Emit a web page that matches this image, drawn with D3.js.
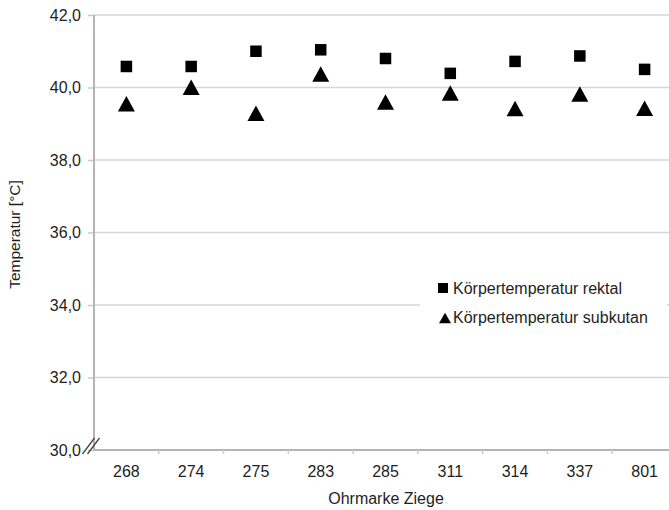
<!DOCTYPE html>
<html><head><meta charset="utf-8">
<script src="https://cdn.jsdelivr.net/npm/d3@7"></script>
<style>body{margin:0;background:#fff}svg{display:block}text{font-family:"Liberation Sans",Arial,sans-serif;fill:#1e1e1e}</style>
</head><body><svg id="c" width="669" height="510"></svg>
<script>
const categories = ["268","274","275","283","285","311","314","337","801"];
const rektal   = [40.58,40.58,41.00,41.04,40.80,40.39,40.72,40.87,40.50];
const subkutan = [39.55,40.01,39.29,40.37,39.60,39.85,39.42,39.82,39.43];
const yTicks = [30,32,34,36,38,40,42];
const seriesNames = ["Körpertemperatur rektal","Körpertemperatur subkutan"];

const svg = d3.select("#c");
const L=94, R=677, T=15, B=450;
const x = d3.scaleBand().domain(categories).range([L,R]);
const y = d3.scaleLinear().domain([30,42]).range([B,T]);
const fmt = d => d.toFixed(1).replace(".", ",");
const FF = "Liberation Sans, Arial, sans-serif";

// gridlines
svg.append("g").selectAll("line").data(yTicks.filter(d=>d>30)).join("line")
  .attr("x1",L).attr("x2",R).attr("y1",d=>y(d)).attr("y2",d=>y(d))
  .attr("stroke","#d6d6d6").attr("stroke-width",1.5);
// y tick marks + labels
const ya = svg.append("g").attr("transform",`translate(${L},0)`)
  .call(d3.axisLeft(y).tickValues(yTicks).tickFormat(fmt).tickSize(6).tickPadding(7));
ya.select(".domain").remove();
ya.selectAll("line").attr("stroke","#c8c8c8").attr("stroke-width",1.5);
ya.selectAll("text").attr("font-size",16).style("font-family",FF).attr("fill","#1e1e1e");
// left axis
svg.append("line").attr("x1",L).attr("x2",L).attr("y1",T).attr("y2",B)
  .attr("stroke","#b4b4b4").attr("stroke-width",2);
// x axis
const xa = svg.append("g").attr("transform",`translate(0,${B})`)
  .call(d3.axisBottom(x).tickSize(0).tickPadding(16));
xa.select(".domain").remove();
xa.selectAll("text").attr("font-size",16).style("font-family",FF).attr("fill","#1e1e1e");
svg.append("line").attr("x1",L).attr("x2",R).attr("y1",B).attr("y2",B)
  .attr("stroke","#b4b4b4").attr("stroke-width",2);
svg.append("g").selectAll("line").data(categories.slice(1)).join("line")
  .attr("x1",d=>x(d)).attr("x2",d=>x(d)).attr("y1",B).attr("y2",B+4)
  .attr("stroke","#ccc").attr("stroke-width",1.5);
// axis break
const brk = svg.append("g").attr("transform",`translate(${L-3},${B-4})`);
[-2.5,2.5].forEach(o=>{
  brk.append("line").attr("x1",-6+o).attr("y1",8).attr("x2",6+o).attr("y2",-8)
   .attr("stroke","#444").attr("stroke-width",1.3);
});

// titles
svg.append("text").attr("transform",`translate(20,${(T+B)/2+2}) rotate(-90)`)
  .attr("text-anchor","middle").attr("font-size",15.5).text("Temperatur [°C]");
svg.append("text").attr("x",386).attr("y",504).attr("text-anchor","middle")
  .attr("font-size",16).text("Ohrmarke Ziege");

// markers
const cx = d => x(d)+x.bandwidth()/2;
const triPath = (w,h) => `M0,${-h/2}L${w/2},${h/2}L${-w/2},${h/2}Z`;
svg.append("g").selectAll("rect").data(categories).join("rect")
  .attr("x",(d)=>cx(d)-5.75).attr("y",(d,i)=>y(rektal[i])-5.75)
  .attr("width",11.5).attr("height",11.5).attr("fill","#000");
svg.append("g").selectAll("path").data(categories).join("path")
  .attr("d",triPath(17,15.5)).attr("transform",(d,i)=>`translate(${cx(d)},${y(subkutan[i])})`).attr("fill","#000");

// legend
const lg = svg.append("g");
lg.append("rect").attr("x",420).attr("y",272).attr("width",247).attr("height",62).attr("fill","#fff");
lg.append("rect").attr("x",438).attr("y",283).attr("width",10).attr("height",10).attr("fill","#000");
lg.append("path").attr("d",triPath(12,10.5)).attr("transform","translate(445,318)").attr("fill","#000");
lg.selectAll("text.l").data(seriesNames).join("text").attr("class","l")
  .attr("x",453).attr("y",(d,i)=>294+i*29).attr("font-size",16).text(d=>d);
</script></body></html>
